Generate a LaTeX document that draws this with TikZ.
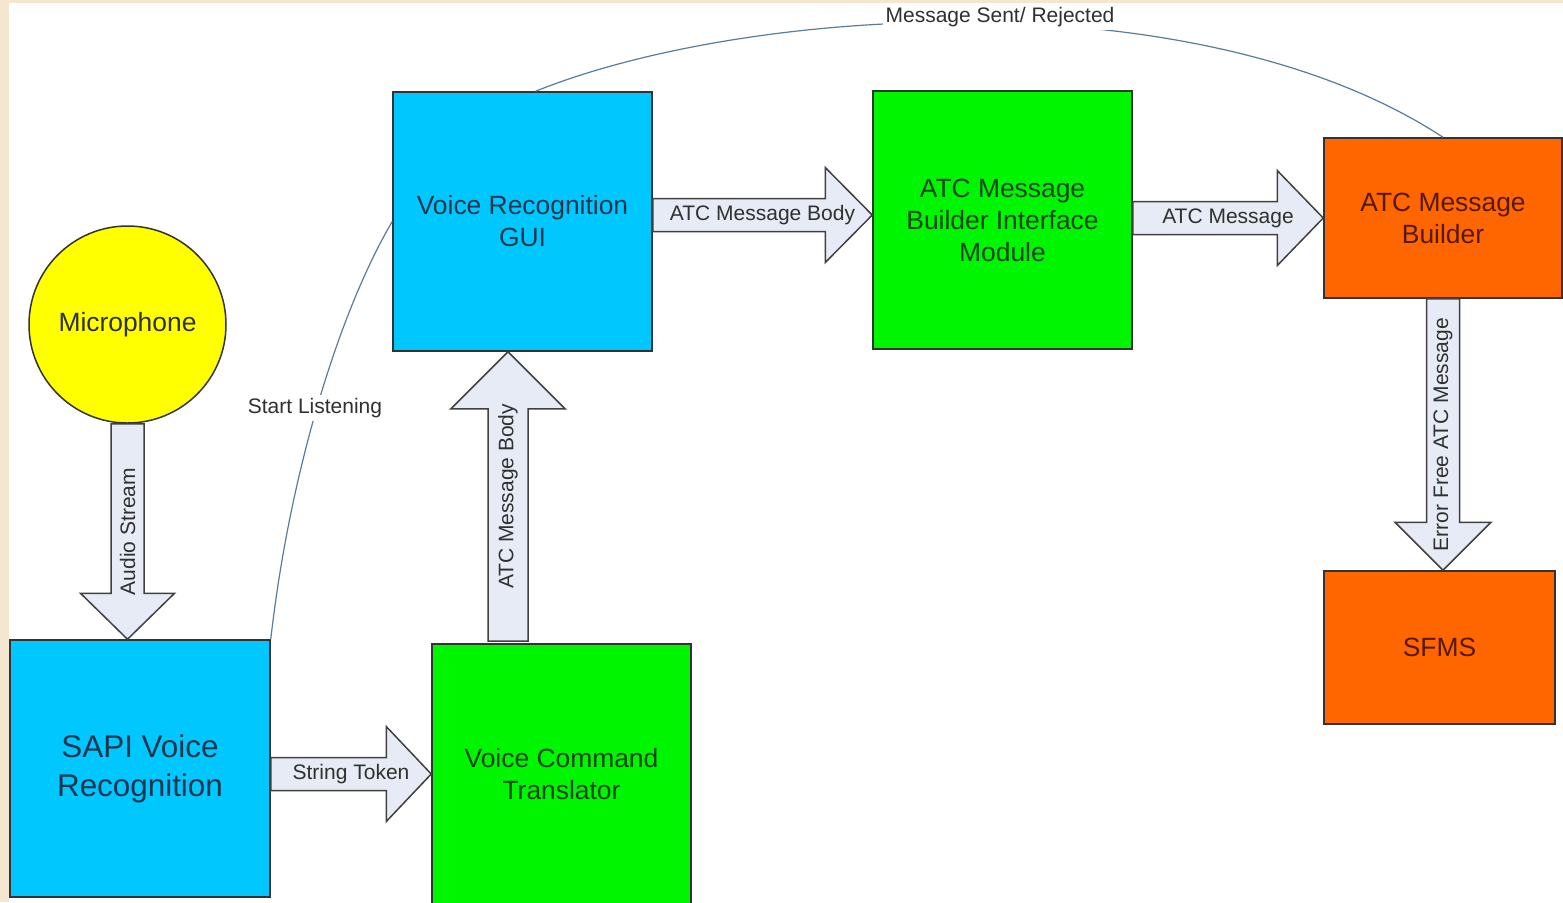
\documentclass[tikz,border=0pt]{standalone}
\usepackage{fontspec}
\setmainfont{Liberation Sans}
\usetikzlibrary{calc}
\definecolor{bgbeige}{HTML}{F5E7CF}
\definecolor{boxblue}{HTML}{00C8FF}
\definecolor{boxgreen}{HTML}{00F500}
\definecolor{boxorange}{HTML}{FF6600}
\definecolor{micyellow}{HTML}{FFFF00}
\definecolor{txtblue}{HTML}{1A3550}
\definecolor{txtgreen}{HTML}{0E440E}
\definecolor{txtorange}{HTML}{551800}
\definecolor{arrowfill}{HTML}{E6EBF5}
\definecolor{arrowline}{HTML}{404040}
\definecolor{curveline}{HTML}{5B7C99}
\definecolor{labeltxt}{HTML}{303030}
\newcommand\blockarr[6]{%
  \coordinate (#6) at ($(#2)!#5!(#1)$);
  \draw[blockarrow] ($(#1)!#3!90:(#2)$) -- ($(#6)!#3!90:(#2)$) -- ($(#6)!#4!90:(#2)$) -- (#2)
    -- ($(#6)!#4!-90:(#2)$) -- ($(#6)!#3!-90:(#2)$) -- ($(#1)!#3!-90:(#2)$) -- cycle;
}
\begin{document}
\begin{tikzpicture}[x=0.5pt,y=-0.5pt,
  box/.style={draw=black!80, line width=0.75pt, rectangle, inner sep=0pt, align=center,
    font=\fontsize{13.2}{16}\selectfont},
  bluebox/.style={box, fill=boxblue, text=txtblue},
  greenbox/.style={box, fill=boxgreen, text=txtgreen},
  orangebox/.style={box, fill=boxorange, text=txtorange},
  blockarrow/.style={draw=arrowline, fill=arrowfill, line width=0.75pt, line join=miter},
  alabel/.style={text=labeltxt, font=\fontsize{10.5}{12}\selectfont, inner sep=0pt},
  curvelabel/.style={text=labeltxt, font=\fontsize{10.5}{12}\selectfont, fill=white, inner sep=1.5pt},
  curve/.style={draw=curveline, line width=0.6pt}
]
\useasboundingbox (0,0) rectangle (1563,902);
\fill[white] (0,0) rectangle (1563,902);
\fill[bgbeige] (0,0) rectangle (9,902);
\fill[bgbeige] (0,0) rectangle (1563,2.5);

% boxes
\node[circle, draw=black!80, line width=0.75pt, fill=micyellow, minimum size=98.5pt, inner sep=0pt,
  text=labeltxt, font=\fontsize{13.2}{16}\selectfont] (mic) at (127.5,324.5) {Microphone};
\node[bluebox, minimum width=130pt, minimum height=128.5pt, font=\fontsize{15.7}{19.5}\selectfont]
  (sapi) at (140,768.5) {SAPI Voice\\Recognition};
\node[bluebox, minimum width=129.5pt, minimum height=129.5pt] (vrg) at (522.5,221.5) {Voice Recognition\\GUI};
\node[greenbox, minimum width=129.5pt, minimum height=130.5pt] (vct) at (561.5,774.5) {Voice Command\\Translator};
\node[greenbox, minimum width=129.5pt, minimum height=129pt] (bim) at (1002.5,220) {ATC Message\\Builder Interface\\Module};
\node[orangebox, minimum width=119pt, minimum height=80pt] (amb) at (1443,218) {ATC Message\\Builder};
\node[orangebox, minimum width=115.5pt, minimum height=76.5pt] (sfms) at (1439.5,647.5) {SFMS};

% curved connectors
\coordinate (msgstart) at ($(vrg.north west)!0.55!(vrg.north east)$);
\draw[curve] (msgstart) .. controls (750,5) and (1200,-22) .. (amb.north);
\node[curvelabel] (msglabel) at (1000,17) {Message Sent/ Rejected};
\draw[curve] (sapi.north east) .. controls (290,470) and (340,310) .. (vrg.west);
\node[curvelabel] (listenlabel) at (315,408) {Start Listening};

% block arrows
\coordinate (as1) at (mic.south);
\coordinate (as2) at (mic.south |- sapi.north);
\blockarr{as1}{as2}{8.25pt}{23.5pt}{23pt}{ash}
\node[alabel, rotate=90] at ($(as1)!0.5!(as2)$) {Audio Stream};

\coordinate (st1) at (sapi.east |- 0,774);
\coordinate (st2) at (vct.west |- 0,774);
\blockarr{st1}{st2}{8.25pt}{23.75pt}{22.5pt}{sth}
\node[alabel] at ($(st1)!0.5!(st2)$) {String Token};

\coordinate (vb1) at (508,641);
\coordinate (vb2) at (vrg.south -| vb1);
\blockarr{vb1}{vb2}{10pt}{28.5pt}{28.5pt}{vbh}
\node[alabel, rotate=90] at ($(vb1)!0.5!(vb2)$) {ATC Message Body};

\coordinate (hb1) at (vrg.east |- 0,215);
\coordinate (hb2) at (bim.west |- 0,215);
\blockarr{hb1}{hb2}{8.25pt}{23.75pt}{23.5pt}{hbh}
\node[alabel] at ($(hb1)!0.5!(hb2)$) {ATC Message Body};

\coordinate (am1) at (bim.east |- 0,218);
\coordinate (am2) at (amb.west |- 0,218);
\blockarr{am1}{am2}{8.25pt}{23.75pt}{23pt}{amh}
\node[alabel] at ($(am1)!0.5!(am2)$) {ATC Message};

\coordinate (ef1) at (amb.south);
\coordinate (ef2) at (amb.south |- sfms.north);
\blockarr{ef1}{ef2}{8.25pt}{24pt}{24pt}{efh}
\node[alabel, rotate=90] at ($(ef1)!0.5!(ef2)$) {Error Free ATC Message};
\end{tikzpicture}
\end{document}
